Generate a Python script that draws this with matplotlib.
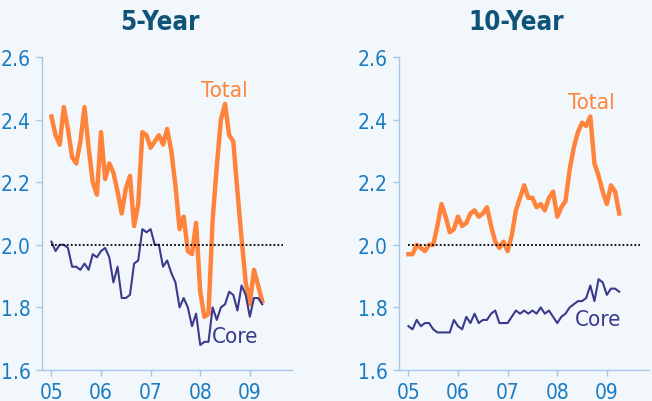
import os

import numpy as np
import matplotlib

matplotlib.use("Agg")
import matplotlib.pyplot as plt
from matplotlib import font_manager as fm

# monthly readings, Jan 2005 .. Apr 2009
start_year = 2005
total_5y = [2.41, 2.35, 2.32, 2.44, 2.37, 2.28, 2.26, 2.33, 2.44, 2.31, 2.20, 2.16,
            2.36, 2.21, 2.26, 2.23, 2.17, 2.10, 2.18, 2.22, 2.06, 2.13, 2.36, 2.35,
            2.31, 2.33, 2.35, 2.32, 2.37, 2.30, 2.19, 2.05, 2.09, 1.98, 1.97, 2.07,
            1.85, 1.77, 1.78, 2.08, 2.25, 2.40, 2.45, 2.35, 2.33, 2.17, 2.02, 1.88,
            1.81, 1.92, 1.87, 1.82]
core_5y = [2.01, 1.98, 2.00, 2.00, 1.99, 1.93, 1.93, 1.92, 1.94, 1.92, 1.97, 1.96,
           1.98, 1.99, 1.96, 1.88, 1.93, 1.83, 1.83, 1.84, 1.94, 1.95, 2.05, 2.04,
           2.05, 2.00, 2.00, 1.93, 1.95, 1.91, 1.88, 1.80, 1.83, 1.80, 1.74, 1.78,
           1.68, 1.69, 1.69, 1.80, 1.76, 1.80, 1.81, 1.85, 1.84, 1.79, 1.87, 1.84,
           1.77, 1.83, 1.83, 1.81]
total_10y = [1.97, 1.97, 2.00, 1.99, 1.98, 2.00, 2.00, 2.06, 2.13, 2.09, 2.04, 2.05,
             2.09, 2.06, 2.07, 2.10, 2.11, 2.09, 2.10, 2.12, 2.06, 2.01, 1.99, 2.01,
             1.98, 2.03, 2.11, 2.15, 2.19, 2.15, 2.15, 2.12, 2.13, 2.11, 2.15, 2.17,
             2.09, 2.12, 2.14, 2.24, 2.31, 2.36, 2.39, 2.38, 2.41, 2.26, 2.22, 2.17,
             2.13, 2.19, 2.17, 2.10]
core_10y = [1.74, 1.73, 1.76, 1.74, 1.75, 1.75, 1.73, 1.72, 1.72, 1.72, 1.72, 1.76,
            1.74, 1.73, 1.77, 1.75, 1.78, 1.75, 1.76, 1.76, 1.78, 1.79, 1.75, 1.75,
            1.75, 1.77, 1.79, 1.78, 1.79, 1.78, 1.79, 1.78, 1.80, 1.78, 1.79, 1.77,
            1.75, 1.77, 1.78, 1.80, 1.81, 1.82, 1.82, 1.83, 1.87, 1.82, 1.89, 1.88,
            1.84, 1.86, 1.86, 1.85]
year_ticks = [2005, 2006, 2007, 2008, 2009]
year_labels = ["05", "06", "07", "08", "09"]
y_ticks = [1.6, 1.8, 2.0, 2.2, 2.4, 2.6]
y_labels = ["1.6", "1.8", "2.0", "2.2", "2.4", "2.6"]
target = 2.0

BG = "#f2f7fc"
ORANGE = "#ff833a"
NAVY = "#3b3a8c"
TICK = "#1c7cc2"
SPINE = "#a6c8e6"
TITLE = "#0f5478"


def _narrow_font(bold=False):
    """Find a condensed / narrow sans face on the machine, if there is one."""
    hits = []
    for f in fm.fontManager.ttflist:
        base = os.path.basename(f.fname)
        label = f.name + " " + base
        if not any(k in label for k in ("Condensed", "Narrow", "Cond")):
            continue
        if any(k in base for k in ("Italic", "Oblique")):
            continue
        is_bold = "Bold" in base or f.weight in (600, 700, "bold", "semibold")
        if is_bold != bold:
            continue
        score = 0 if "Sans" in label else 1
        hits.append((score, base, f.fname))
    if hits:
        return fm.FontProperties(fname=sorted(hits)[0][2])
    return fm.FontProperties(family="Roboto", weight="bold" if bold else "normal")


FONT = _narrow_font(bold=False)
FONT_B = _narrow_font(bold=True)


def _fp(base, size):
    fp = base.copy()
    fp.set_size(size)
    return fp


fig = plt.figure(figsize=(6.52, 4.02), dpi=100, facecolor=BG)


def panel(rect, total, core, title, title_x, total_xy, core_xy):
    ax = fig.add_axes(rect, facecolor=BG)
    x = start_year + np.arange(len(total)) / 12
    ax.plot(x, total, color=ORANGE, lw=3.2)
    ax.plot(x, core, color=NAVY, lw=1.5)
    ax.plot([start_year, 2009.66], [target, target], color="black", lw=1.3,
            ls=(0, (1, 1.2)))
    ax.set_xlim(2004.81, 2009.85)
    ax.set_ylim(1.6, 2.6)
    ax.set_xticks(year_ticks)
    ax.set_xticklabels(year_labels, fontproperties=_fp(FONT, 15))
    ax.set_yticks(y_ticks)
    ax.set_yticklabels(y_labels, fontproperties=_fp(FONT, 15))
    for s in ("top", "right"):
        ax.spines[s].set_visible(False)
    for s in ("left", "bottom"):
        ax.spines[s].set_color(SPINE)
        ax.spines[s].set_linewidth(1.0)
    ax.tick_params(colors=SPINE, labelcolor=TICK, length=4, width=1.0)
    ax.tick_params(axis="x", pad=5)
    ax.tick_params(axis="y", pad=4)
    fig.text(*total_xy, "Total", color=ORANGE, fontproperties=_fp(FONT, 16),
             ha="center", va="center")
    fig.text(*core_xy, "Core", color=NAVY, fontproperties=_fp(FONT, 16),
             ha="center", va="center")
    fig.text(title_x, 1 - 23 / 402, title, color=TITLE, fontproperties=_fp(FONT_B, 18.5),
             ha="center", va="center")
    return ax


bottom = 31 / 402
height = 313 / 402
panel([42 / 652, bottom, 250 / 652, height], total_5y, core_5y, "5-Year",
      160 / 652, (224 / 652, 1 - 91 / 402), (235 / 652, 1 - 337 / 402))
panel([399 / 652, bottom, 250 / 652, height], total_10y, core_10y, "10-Year",
      516 / 652, (591 / 652, 1 - 103 / 402), (598 / 652, 1 - 320 / 402))

fig.savefig("out.png", dpi=100, facecolor=BG)
